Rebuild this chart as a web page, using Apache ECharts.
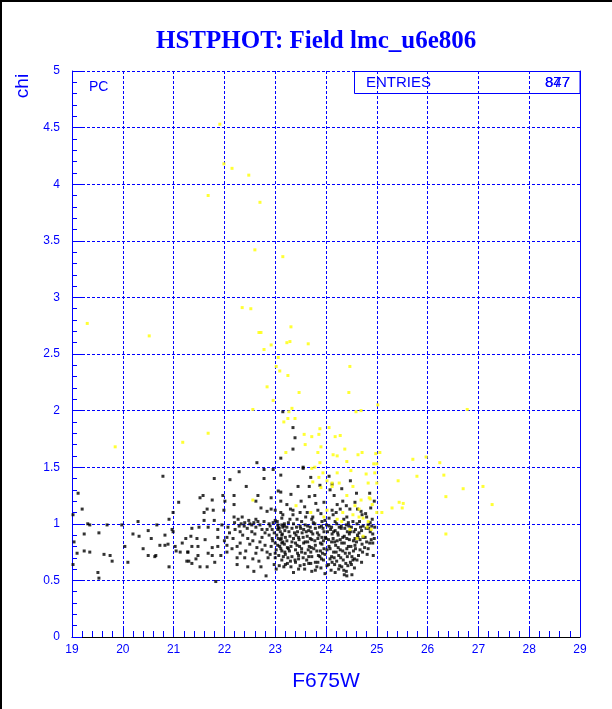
<!DOCTYPE html>
<html>
<head>
<meta charset="utf-8">
<script src="https://cdn.jsdelivr.net/npm/echarts@6/dist/echarts.min.js"></script>
<style>
html,body{margin:0;padding:0;background:#fff;}
#c{width:612px;height:709px;}
</style>
</head>
<body>
<div id="c"></div>
<script>
var titleText = 'HSTPHOT: Field lmc_u6e806';
var xName = 'F675W';
var yName = 'chi';
var xMin = 19, xMax = 29, xStep = 1;
var yMin = 0, yMax = 5, yStep = 0.5;
var statLabel = 'ENTRIES';
var statValues = ['877', '847'];
var optLabel = 'PC';

// black points (F675W, chi)
var blackPts = [
[20.79,1.42],[19.12,1.27],[19.20,1.13],[21.10,1.19],[20.99,1.10],[20.91,1.04],[19.02,1.08],[20.30,1.02],[19.31,1.00],[19.35,0.99],
[19.69,0.99],[19.98,0.99],[20.67,0.99],[20.97,0.95],[20.99,0.93],[19.24,0.91],[19.53,0.92],[20.50,0.94],[20.20,0.91],[20.32,0.89],
[20.83,0.90],[20.56,0.87],[21.24,0.87],[21.17,0.83],[19.04,0.84],[20.89,0.82],[20.73,0.81],[20.83,0.81],[21.03,0.80],[20.04,0.80],
[20.40,0.78],[19.24,0.76],[19.35,0.75],[19.10,0.74],[21.05,0.76],[21.28,0.75],[21.13,0.75],[19.63,0.73],[20.50,0.72],[20.65,0.72],
[19.75,0.72],[20.63,0.71],[19.79,0.67],[20.10,0.66],[21.26,0.67],[19.02,0.64],[20.91,0.62],[19.51,0.57],[19.53,0.52],
[23.11,1.58],[22.64,1.54],[22.96,1.48],[22.78,1.48],[22.29,1.46],[21.80,1.40],[22.11,1.39],[22.78,1.40],[22.43,1.33],[23.06,1.29],
[21.58,1.25],[22.66,1.25],[21.52,1.23],[22.19,1.25],[21.97,1.25],[22.92,1.23],[21.76,1.21],[22.01,1.20],[22.19,1.17],[22.62,1.20],
[23.11,1.20],[21.66,1.13],[21.60,1.10],[21.78,1.12],[21.99,1.12],[22.72,1.14],[22.84,1.11],[22.92,1.13],[23.00,1.12],[23.11,1.10],
[22.19,1.06],[22.27,1.04],[22.35,1.06],[22.48,1.03],[22.62,1.04],[21.60,1.03],[21.80,1.03],[22.78,1.02],[23.00,1.03],[23.13,1.05],
[21.50,0.97],[21.36,0.96],[21.68,0.97],[21.87,0.95],[22.07,0.97],[22.21,0.95],[22.29,0.98],[22.39,0.98],[22.54,0.99],[22.62,0.97],
[22.74,0.95],[22.84,0.95],[22.94,0.95],[23.06,0.97],[23.15,0.97],[22.31,0.93],[22.54,0.93],[22.80,0.92],[23.13,0.90],[21.34,0.89],
[21.46,0.87],[21.87,0.88],[22.05,0.88],[22.17,0.87],[22.46,0.87],[22.56,0.85],[22.74,0.88],[22.94,0.87],[23.06,0.87],[21.62,0.86],
[22.31,0.83],[22.80,0.81],[23.00,0.83],[23.13,0.83],[21.36,0.80],[21.48,0.80],[21.76,0.79],[21.87,0.80],[22.05,0.81],[22.25,0.80],
[22.64,0.79],[22.92,0.80],[23.09,0.80],[21.28,0.75],[21.68,0.74],[22.05,0.75],[22.31,0.74],[22.74,0.77],[22.84,0.75],[23.00,0.74],
[23.11,0.78],[21.48,0.72],[21.76,0.72],[21.93,0.72],[22.25,0.70],[23.00,0.70],[21.44,0.69],[21.30,0.67],[21.81,0.66],[22.56,0.69],
[22.86,0.70],[21.36,0.65],[21.52,0.62],[21.66,0.62],[22.25,0.64],[22.46,0.62],[22.72,0.62],[22.98,0.64],[23.17,0.62],[22.82,0.54],
[21.83,0.49],[22.40,1.01],[22.50,1.00],[22.58,1.01],[22.70,0.99],[22.88,1.00],[22.96,1.01],[23.05,0.99],[22.33,1.00],[22.45,0.96],
[22.66,1.02],[22.90,0.98],[23.18,1.00],
[23.39,1.76],[23.35,1.66],[23.55,1.49],[23.11,1.43],[23.45,1.33],[23.88,1.34],[23.11,1.28],[23.31,1.26],[24.08,1.30],[24.31,1.31],
[23.67,1.24],[23.80,1.18],[23.96,1.19],[24.22,1.17],[24.33,1.20],[23.23,1.17],[23.51,1.20],[23.35,1.12],[23.49,1.10],[23.63,1.10],
[23.84,1.12],[24.12,1.12],[24.28,1.13],[24.47,1.13],[23.15,1.08],[23.35,1.08],[23.74,1.06],[24.14,1.08],[24.41,1.06],[24.71,1.08],
[23.29,1.04],[23.43,1.04],[23.72,1.04],[23.92,1.02],[24.53,1.02],[24.91,1.04],
[23.15,1.99],[23.35,1.85],[23.55,1.50],[23.70,1.41],[24.06,1.42],[24.12,1.35],[23.67,1.33],[23.78,1.25],[24.16,1.25],[24.57,1.19],
[24.69,1.11],[24.41,0.54],[24.36,0.55],
[23.13,0.99],[23.23,0.97],[23.36,1.00],[23.49,0.98],[23.59,0.99],[23.69,0.97],[23.78,1.00],[23.91,0.98],[24.01,0.99],[24.11,0.97],
[24.21,1.00],[24.30,0.98],[24.40,0.99],[24.50,0.97],[24.61,1.00],[24.73,0.98],[24.83,0.99],[24.96,0.97],
[23.05,0.95],[23.19,0.94],[23.33,0.96],[23.44,0.93],[23.56,0.95],[23.66,0.94],[23.79,0.96],[23.96,0.93],[24.09,0.95],[24.18,0.94],
[24.30,0.96],[24.48,0.93],[24.58,0.95],[24.70,0.94],[24.84,0.96],
[23.03,0.90],[23.14,0.91],[23.29,0.89],[23.41,0.90],[23.53,0.92],[23.63,0.89],[23.74,0.91],[23.86,0.90],[23.99,0.88],[24.12,0.91],
[24.24,0.90],[24.36,0.89],[24.46,0.91],[24.62,0.90],[24.77,0.88],[24.92,0.91],
[23.10,0.86],[23.23,0.85],[23.36,0.87],[23.47,0.86],[23.59,0.84],[23.72,0.86],[23.84,0.87],[23.95,0.85],[24.05,0.86],[24.17,0.84],
[24.28,0.86],[24.41,0.87],[24.54,0.85],[24.67,0.86],[24.80,0.84],
[23.05,0.81],[23.18,0.82],[23.31,0.80],[23.43,0.81],[23.56,0.83],[23.67,0.80],[23.79,0.81],[23.92,0.82],[24.06,0.80],[24.19,0.81],
[24.31,0.83],[24.44,0.80],[24.57,0.81],[24.71,0.82],
[23.02,0.77],[23.13,0.76],[23.26,0.78],[23.40,0.77],[23.52,0.75],[23.65,0.77],[23.76,0.78],[23.89,0.76],[24.02,0.77],[24.15,0.75],
[24.28,0.77],[24.41,0.78],[24.54,0.76],[24.67,0.77],
[23.07,0.72],[23.20,0.73],[23.33,0.71],[23.46,0.72],[23.59,0.74],[23.72,0.71],[23.85,0.72],[23.98,0.73],[24.11,0.71],[24.25,0.72],
[24.38,0.74],[24.51,0.71],[24.64,0.72],
[23.13,0.68],[23.30,0.67],[23.46,0.69],[23.62,0.68],[23.79,0.66],[23.95,0.68],[24.08,0.69],[24.21,0.67],[24.34,0.68],[24.48,0.66],
[24.61,0.68],
[23.08,0.63],[23.20,0.64],[23.31,0.62],[23.49,0.63],[23.66,0.65],[23.82,0.62],[24.02,0.63],[24.17,0.64],[24.31,0.62],[24.43,0.63],
[24.56,0.61],[23.36,0.57],[23.72,0.58],[23.98,0.56],[24.18,0.57],[24.35,0.59],[24.51,0.55],
[23.18,0.98],[23.42,0.97],[23.64,0.98],[23.87,0.97],[24.06,0.98],[24.26,0.97],[24.45,0.98],[24.68,0.97],[24.90,0.98],
[23.10,0.93],[23.38,0.92],[23.61,0.93],[23.83,0.92],[24.03,0.93],[24.23,0.92],[24.42,0.93],[24.65,0.92],[24.87,0.93],
[23.20,0.88],[23.46,0.88],[23.69,0.87],[23.92,0.88],[24.14,0.87],[24.33,0.88],[24.57,0.87],[24.73,0.88],[24.95,0.87],
[23.15,0.84],[23.40,0.83],[23.64,0.84],[23.89,0.83],[24.11,0.84],[24.36,0.83],[24.60,0.84],[24.86,0.83],
[23.24,0.79],[23.48,0.80],[23.71,0.79],[23.96,0.78],[24.24,0.79],[24.49,0.80],[24.76,0.79],
[23.19,0.75],[23.44,0.74],[23.70,0.75],[23.93,0.74],[24.20,0.75],[24.46,0.74],[24.72,0.75],
[23.25,0.70],[23.55,0.70],[23.88,0.71],[24.16,0.70],[24.42,0.71],[24.56,0.69],
[23.40,0.66],[23.70,0.65],[24.12,0.66],[24.39,0.65],[23.58,0.60],[23.90,0.61],[24.25,0.60],
[24.62,1.13],[24.78,1.09],[24.88,1.14],[24.95,1.20],[24.60,1.27],[24.48,1.38],[24.86,1.27],[24.92,0.83],[24.83,0.78],[24.93,0.72],
[23.08,0.96],[23.27,0.93],[23.50,0.96],[23.71,0.93],[23.94,0.96],[24.15,0.93],[24.37,0.96],[24.55,0.93],[24.79,0.96],
[23.12,0.87],[23.33,0.84],[23.55,0.88],[23.78,0.85],[24.00,0.87],[24.22,0.85],[24.46,0.86],[24.63,0.88],[24.89,0.86],
[23.28,0.76],[23.52,0.78],[23.82,0.76],[24.08,0.78],[24.33,0.76],[24.58,0.78],[24.81,0.73],
[23.16,0.71],[23.39,0.68],[23.66,0.71],[23.91,0.69],[24.29,0.70],[24.53,0.68],[24.70,0.66],
[23.24,0.65],[23.57,0.64],[23.84,0.66],[24.05,0.64],[24.27,0.63],[24.50,0.64],
[23.46,0.60],[23.79,0.59],[24.10,0.59],[24.40,0.58],
[23.04,1.02],[23.26,1.01],[23.52,1.02],[23.75,1.01],[23.98,1.03],[24.18,1.02],[24.44,1.01],[24.66,1.02],[24.87,1.01],
[22.36,0.90],[22.60,0.91],[22.88,0.90],[22.50,0.82],[22.70,0.84],[22.95,0.85],[22.42,0.76],[22.62,0.74],[22.90,0.73],
[22.10,0.92],[22.00,0.85],[22.15,0.78],[22.40,0.70],[22.68,0.67],[21.95,0.99],[22.20,1.01],[22.98,0.92],[23.02,0.60],[22.58,0.58],
[23.30,1.13],[23.58,1.15],[23.90,1.09],[24.20,1.10],[24.40,1.16],[24.80,1.06],[23.60,1.06],[24.06,1.05],[24.35,1.04]
];

// yellow points (F675W, chi)
var yellowPts = [
[19.30,2.77],[20.52,2.66],[19.85,1.68],[21.18,1.72],[21.68,1.80],[22.56,1.21],
[21.91,4.53],[21.99,4.18],[22.15,4.14],[22.48,4.08],[21.68,3.90],[22.70,3.84],[22.60,3.42],[23.15,3.36],[22.35,2.91],[22.52,2.90],
[23.31,2.74],[22.68,2.69],[22.72,2.69],[23.29,2.61],[23.23,2.60],[23.65,2.59],[22.92,2.58],[22.78,2.54],
[23.06,2.47],[23.02,2.39],[23.09,2.35],[24.47,2.39],[23.25,2.31],[22.84,2.21],[24.45,2.16],[23.47,2.16],[22.96,2.09],[22.56,2.01],
[23.27,1.99],[23.33,2.02],[24.59,1.99],[24.69,2.00],[25.02,2.05],[26.78,2.01],[23.25,1.93],[23.39,1.93],[23.17,1.90],[23.88,1.84],
[24.06,1.85],[23.57,1.79],[23.72,1.77],[23.86,1.79],[24.18,1.77],[24.28,1.78],[23.59,1.70],[23.90,1.68],[24.37,1.66],[23.21,1.63],
[23.84,1.63],[24.14,1.61],[24.22,1.60],[24.71,1.63],[24.63,1.61],[24.98,1.62],[25.06,1.63],[24.41,1.55],[23.88,1.54],[23.78,1.50],
[23.72,1.49],[24.94,1.53],[25.00,1.53],[24.49,1.47],[23.94,1.45],[24.22,1.45],[24.79,1.44],[24.96,1.45],[23.86,1.41],[23.74,1.37],
[24.02,1.38],[24.12,1.36],[24.26,1.36],[24.83,1.36],[25.00,1.36],[23.90,1.32],[24.12,1.33],[24.53,1.33],[24.41,1.25],[24.69,1.21],
[24.87,1.22],[24.57,1.16],[24.65,1.13],[24.91,1.17],[23.41,1.16],[24.02,1.12],[23.70,1.10],[24.33,1.10],[24.53,1.08],[25.00,1.10],
[24.83,1.02],[24.73,1.05],[24.65,1.06],[23.96,1.06],[24.22,1.04],[24.31,1.02],[24.47,0.95],[24.81,0.97],[24.73,0.89],[24.61,0.87],
[24.89,0.95],[25.71,1.57],[25.97,1.59],[26.24,1.54],[25.79,1.42],[26.32,1.43],[25.42,1.38],[27.09,1.33],[26.70,1.31],[26.36,1.24],
[27.27,1.17],[25.44,1.19],[25.52,1.18],[25.30,1.14],[25.50,1.14],[25.10,1.10],[26.36,0.91],[24.85,1.23]
];

var BLUE = '#0000ff';
var FONT = 'Liberation Sans';
var chart = echarts.init(document.getElementById('c'), null, {renderer: 'canvas'});

function yFmt(v) { return String(Math.round(v * 10) / 10); }

var option = {
  animation: false,
  backgroundColor: '#ffffff',
  title: {
    text: titleText, left: 151, top: 24,
    textStyle: {fontFamily: 'Liberation Serif', fontWeight: 'bold', fontSize: 25, color: BLUE}
  },
  grid: {left: 72, right: 32, top: 71, bottom: 72, containLabel: false},
  xAxis: {
    type: 'value', min: xMin, max: xMax, interval: xStep,
    name: xName, nameLocation: 'middle', nameGap: 34,
    nameTextStyle: {fontFamily: FONT, fontSize: 21, color: BLUE},
    axisLine: {show: true, onZero: false, lineStyle: {color: '#000000', width: 1}},
    axisTick: {show: true, inside: true, length: 10, lineStyle: {color: BLUE}},
    minorTick: {show: true, splitNumber: 5, length: 6, lineStyle: {color: BLUE}},
    axisLabel: {fontFamily: FONT, fontSize: 12, color: BLUE, margin: 7},
    splitLine: {show: true, showMinLine: false, showMaxLine: true, lineStyle: {color: BLUE, type: [3, 2], width: 1}}
  },
  yAxis: [{
    type: 'value', min: yMin, max: yMax, interval: yStep,
    axisLine: {show: true, onZero: false, lineStyle: {color: BLUE, width: 1}},
    axisTick: {show: true, inside: true, length: 10, lineStyle: {color: BLUE}},
    minorTick: {show: true, splitNumber: 5, length: 5, lineStyle: {color: BLUE}},
    axisLabel: {fontFamily: FONT, fontSize: 12, color: BLUE, margin: 12, formatter: yFmt},
    splitLine: {show: true, showMinLine: false, showMaxLine: true, lineStyle: {color: BLUE, type: [3, 2], width: 1}}
  }, {
    type: 'value', min: yMin, max: yMax, interval: yStep, position: 'right',
    axisLine: {show: true, onZero: false, lineStyle: {color: BLUE, width: 1}},
    axisTick: {show: false}, axisLabel: {show: false}, splitLine: {show: false}
  }],
  series: [{
    type: 'scatter', data: blackPts, symbol: 'rect', symbolSize: 3,
    itemStyle: {color: '#000000'}, silent: true
  }, {
    type: 'scatter', data: yellowPts, symbol: 'rect', symbolSize: 3,
    itemStyle: {color: '#ffff00'}, silent: true
  }],
  graphic: [
    {type: 'line', shape: {x1: 1, y1: 0, x2: 1, y2: 709}, style: {stroke: '#000', lineWidth: 2}},
    {type: 'line', shape: {x1: 0, y1: 1, x2: 612, y2: 1}, style: {stroke: '#000', lineWidth: 2}},
    {type: 'text', x: 23, y: 86, rotation: Math.PI / 2,
     style: {text: yName, fill: BLUE, font: '19px "Liberation Sans"', textAlign: 'center', textVerticalAlign: 'middle'}},
    {type: 'text', x: 89, y: 87,
     style: {text: optLabel, fill: BLUE, font: '14px "Liberation Sans"', textVerticalAlign: 'middle'}},
    {type: 'rect', shape: {x: 354.5, y: 71.5, width: 225.5, height: 22},
     style: {fill: 'rgba(0,0,0,0)', stroke: BLUE, lineWidth: 1}},
    {type: 'text', x: 366, y: 83,
     style: {text: statLabel, fill: BLUE, font: '15px "Liberation Sans"', textVerticalAlign: 'middle'}},
    {type: 'text', x: 570, y: 83,
     style: {text: statValues[0], fill: BLUE, font: '15px "Liberation Sans"', textAlign: 'right', textVerticalAlign: 'middle'}},
    {type: 'text', x: 570, y: 83,
     style: {text: statValues[1], fill: BLUE, font: '15px "Liberation Sans"', textAlign: 'right', textVerticalAlign: 'middle'}}
  ]
};
chart.setOption(option);
</script>
</body>
</html>
